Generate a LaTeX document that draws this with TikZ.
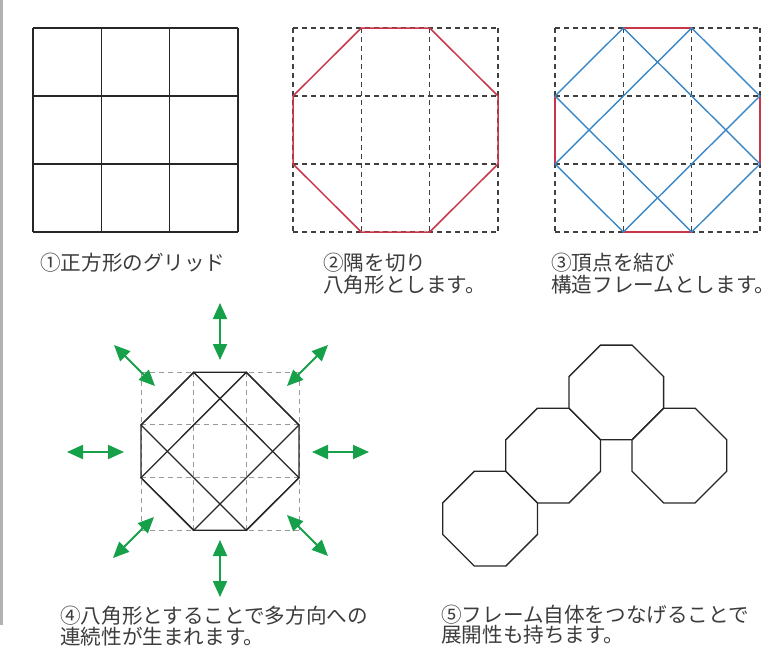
\documentclass[tikz,border=0pt]{standalone}
\usepackage{fontspec}
\newfontfamily\jpfont{Noto Sans CJK JP}
\usetikzlibrary{arrows.meta}
\definecolor{txtc}{HTML}{3C3C3C}
\definecolor{redl}{HTML}{C8364A}
\definecolor{bluel}{HTML}{3A87C8}
\definecolor{grn}{HTML}{17A04A}
\tikzset{
 gridline/.style={draw=black!85, line width=1.2pt},
 dashgrid/.style={draw=black!75, line width=1.1pt, dash pattern=on 5pt off 4pt},
 lightdash/.style={draw=black!40, line width=1pt, dash pattern=on 5pt off 4pt},
 redline/.style={draw=redl, line width=1.5pt},
 blueline/.style={draw=bluel, line width=1.4pt},
 frameline/.style={draw=black!85, line width=1.3pt, line join=miter},
 garrow/.style={draw=grn, line width=2pt, {Triangle[length=16pt,width=14pt]}-{Triangle[length=16pt,width=14pt]}},
 lbl/.style={font=\jpfont\fontsize{20.6}{22}\selectfont, text=txtc, anchor=base west, inner sep=0pt},
}
\newcommand\octframe[2]{%
 \draw[frameline] (#1+31.57,#2) -- (#1+63.13,#2) -- (#1+94.7,#2+31.57) -- (#1+94.7,#2+63.13)
   -- (#1+63.13,#2+94.7) -- (#1+31.57,#2+94.7) -- (#1,#2+63.13) -- (#1,#2+31.57) -- cycle;}
\begin{document}
\begin{tikzpicture}[x=1pt,y=-1pt]
\useasboundingbox (0,0) rectangle (779,653);
\fill[black!30] (0,0) rectangle (3,625);

% Panel 1
\foreach \i in {0,1,2,3} {
  \draw[gridline] (33+68.33*\i,28) -- (33+68.33*\i,232);
  \draw[gridline] (33,28+68*\i) -- (238,28+68*\i);
}
\node[lbl] (l1) at (40,270) {①正方形のグリッド};

% Panel 2
\foreach \i in {0,1,2,3} {
  \draw[dashgrid] (293+68.33*\i,28) -- (293+68.33*\i,232);
  \draw[dashgrid] (293,28+68*\i) -- (498,28+68*\i);
}
\draw[redline] (361.3,28) -- (429.7,28) -- (498,96) -- (498,164) -- (429.7,232) -- (361.3,232) -- (293,164) -- (293,96) -- cycle;
\node[lbl] (l2a) at (323,270.5) {②隅を切り};
\node[lbl] (l2b) at (323,292) {八角形とします。};

% Panel 3
\foreach \i in {0,1,2,3} {
  \draw[dashgrid] (555+68.33*\i,28) -- (555+68.33*\i,232);
  \draw[dashgrid] (555,28+68*\i) -- (760,28+68*\i);
}
\draw[redline] (623.3,28) -- (691.7,28);
\draw[redline] (623.3,232) -- (691.7,232);
\draw[redline] (555,96) -- (555,164);
\draw[redline] (760,96) -- (760,164);
\draw[blueline] (555,96) -- (623.3,28) -- (760,164) -- (691.7,232) -- (555,96);
\draw[blueline] (555,164) -- (691.7,28) -- (760,96) -- (623.3,232) -- (555,164);
\node[lbl] (l3a) at (551,270.5) {③頂点を結び};
\node[lbl] (l3b) at (551,292) {構造フレームとします。};

% Panel 4
\foreach \i in {0,1,2,3} {
  \draw[lightdash] (141+52.67*\i,372.3) -- (141+52.67*\i,530.3);
  \draw[lightdash] (141,372.3+52.67*\i) -- (299,372.3+52.67*\i);
}
\draw[frameline] (193.7,372.3) -- (246.3,372.3) -- (299,425) -- (299,477.7) -- (246.3,530.3) -- (193.7,530.3) -- (141,477.7) -- (141,425) -- cycle;
\draw[frameline] (141,425) -- (193.7,372.3) -- (299,477.7) -- (246.3,530.3) -- cycle;
\draw[frameline] (141,477.7) -- (246.3,372.3) -- (299,425) -- (193.7,530.3) -- cycle;
\draw[garrow] (220,303) -- (220,360);
\draw[garrow] (220,540) -- (220,597);
\draw[garrow] (67,452) -- (124,452);
\draw[garrow] (312,452) -- (369,452);
\draw[garrow] (114,345) -- (155,386);
\draw[garrow] (328,345) -- (287,386);
\draw[garrow] (154,517) -- (113,558);
\draw[garrow] (287,515) -- (328,556);
\node[lbl] (l4a) at (60,623) {④八角形とすることで多方向への};
\node[lbl] (l4b) at (60,644) {連続性が生まれます。};

% Panel 5
\octframe{442.7}{471.3}
\octframe{505.8}{408.2}
\octframe{568.9}{345.1}
\octframe{632.0}{408.2}
\node[lbl] (l5a) at (441,622) {⑤フレーム自体をつなげることで};
\node[lbl] (l5b) at (441,642) {展開性も持ちます。};
\end{tikzpicture}
\end{document}
